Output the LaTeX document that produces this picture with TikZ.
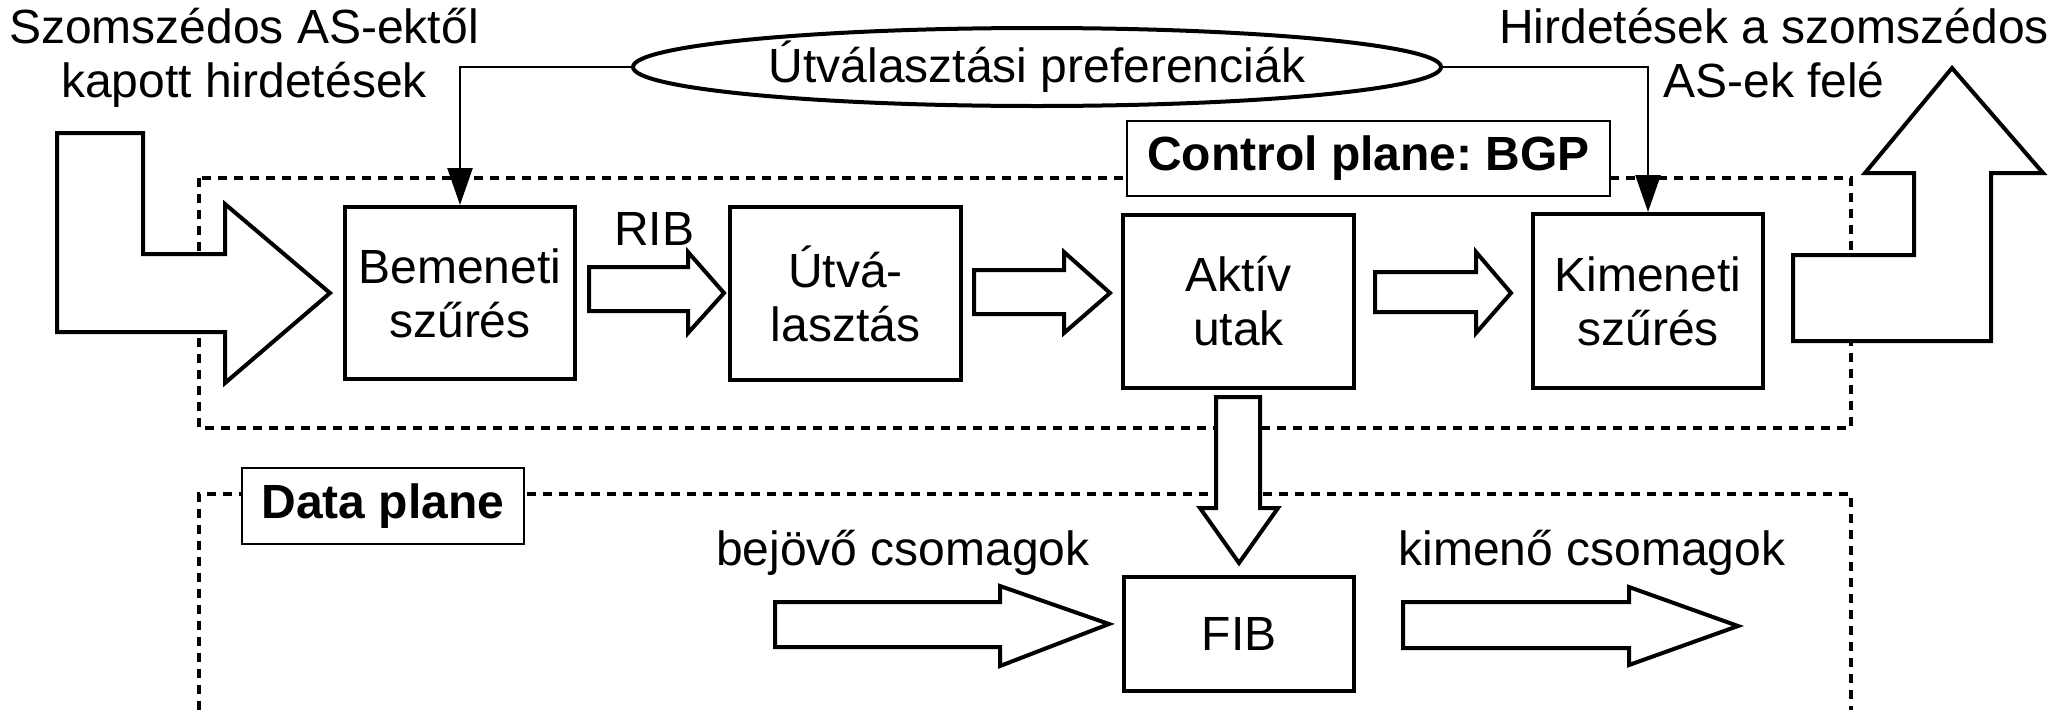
\documentclass[tikz,border=0pt]{standalone}
\usepackage{fontspec}
\setmainfont{Liberation Sans}
\usetikzlibrary{shapes.geometric,arrows.meta}
\frenchspacing
\begin{document}
\begin{tikzpicture}[x=1pt,y=-1pt,
  every node/.style={font=\fontsize{48}{54}\selectfont, inner sep=0pt},
  procbox/.style={draw, line width=4pt, align=center, fill=white},
  blockarrow/.style={draw, line width=4pt, fill=white, line join=miter},
  plane/.style={draw, line width=4pt, dash pattern=on 9pt off 7pt},
  planelabel/.style={draw, line width=2.5pt, fill=white, font=\fontsize{48}{54}\selectfont\bfseries},
  conn/.style={draw, line width=2.5pt, -{Triangle[length=37pt,width=25pt]}},
  freetext/.style={align=center},
]
\useasboundingbox (0,0) rectangle (2060,710);

% plane frames
\draw[plane] (199,178) rectangle (1851,428);
\draw[plane] (199,710) -- (199,494) -- (1851,494) -- (1851,710);

% plane labels
\node[planelabel, minimum width=483pt, minimum height=75pt] (cplab) at (1368.5,158.5) {Control plane: BGP};
\node[planelabel, minimum width=282pt, minimum height=76pt] (dplab) at (383,506) {Data plane};

% process boxes
\node[procbox, minimum width=230pt, minimum height=172pt] (bem) at (460,293) {Bemeneti\\szűrés};
\node[procbox, minimum width=231pt, minimum height=173pt] (utv) at (845.5,293.5) {Útvá-\\lasztás};
\node[procbox, minimum width=231pt, minimum height=173pt] (akt) at (1238.5,301.5) {Aktív\\utak};
\node[procbox, minimum width=230pt, minimum height=174pt] (kim) at (1648,301) {Kimeneti\\szűrés};
\node[procbox, minimum width=230pt, minimum height=114pt] (fib) at (1239,634) {FIB};

% preferences ellipse
\node[ellipse, draw, line width=4pt, minimum width=808pt, minimum height=78pt, fill=white] (pref) at (1037,67) {Útválasztási preferenciák};
\draw[conn] (pref.west) -| (bem.north);
\draw[conn] (pref.east) -| (kim.north);

% free texts
\node[freetext] (tin) at (244,58) {Szomszédos AS-ektől\\kapott hirdetések};
\node[freetext] (tout) at (1774,53) {Hirdetések a szomszédos\\AS-ek felé};
\node[anchor=base] (rib) at (654,245) {RIB};
\node[anchor=base] (bej) at (903,565) {bejövő csomagok};
\node[anchor=base] (kimc) at (1592,565) {kimenő csomagok};

% block arrows
\draw[blockarrow] (57,133) -- (143,133) -- (143,254) -- (225,254) -- (225,204) -- (330,293) -- (225,383) -- (225,332) -- (57,332) -- cycle;
\draw[blockarrow] (589,267) -- (688,267) -- (688,252) -- (724,293) -- (688,333) -- (688,311) -- (589,311) -- cycle;
\draw[blockarrow] (974,270) -- (1064,270) -- (1064,252) -- (1110,293) -- (1064,333) -- (1064,314) -- (974,314) -- cycle;
\draw[blockarrow] (1375,272) -- (1476,272) -- (1476,252) -- (1511,293) -- (1476,333) -- (1476,312) -- (1375,312) -- cycle;
\draw[blockarrow] (1793,341) -- (1793,255) -- (1914,255) -- (1914,173) -- (1865,173) -- (1952,68) -- (2043,173) -- (1991,173) -- (1991,341) -- cycle;
\draw[blockarrow] (1216,397) -- (1260,397) -- (1260,508) -- (1278,508) -- (1239,563) -- (1200,508) -- (1216,508) -- cycle;
\draw[blockarrow] (775,602) -- (1000,602) -- (1000,586) -- (1109,624) -- (1000,666) -- (1000,647) -- (775,647) -- cycle;
\draw[blockarrow] (1403,602) -- (1629,602) -- (1629,587) -- (1738,626) -- (1629,665) -- (1629,648) -- (1403,648) -- cycle;
\end{tikzpicture}
\end{document}
